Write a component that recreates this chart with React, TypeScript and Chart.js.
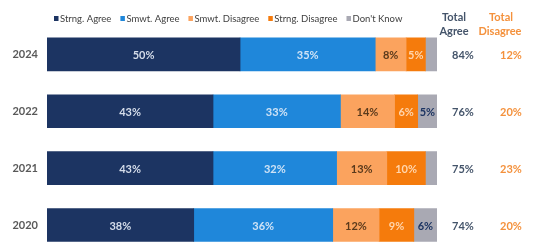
import React, { useEffect, useRef } from "react";
import { Chart, registerables } from "chart.js";

Chart.register(...registerables);

const years = ["2024", "2022", "2021", "2020"];
const strongAgree = [50, 43, 43, 38];
const somewhatAgree = [35, 33, 32, 36];
const somewhatDisagree = [8, 14, 13, 12];
const strongDisagree = [5, 6, 10, 9];
const dontKnow = [3, 5, 3, 6];
const totalAgree = [84, 76, 75, 74];
const totalDisagree = [12, 20, 23, 20];
const seriesNames = ["Strng. Agree", "Smwt. Agree", "Smwt. Disagree", "Strng. Disagree", "Don't Know"];

const colors = ["#1c3462", "#1f87da", "#fba35e", "#f57b0c", "#a9a9b3"];
const labelColors = ["#d5ddea", "#cfe3f6", "#5a3a1c", "#ffd6ae", "#1c3462"];
const FONT = "Lato, 'Open Sans', sans-serif";

const overlay = {
  id: "overlay",
  afterDatasetsDraw(chart: any) {
    const ctx = chart.ctx;
    ctx.save();
    ctx.textAlign = "center";
    ctx.textBaseline = "middle";
    ctx.font = `bold 11px ${FONT}`;
    chart.data.datasets.forEach((ds: any, i: number) => {
      const meta = chart.getDatasetMeta(i);
      meta.data.forEach((el: any, j: number) => {
        const v = ds.data[j];
        if (v < 4) return;
        const p = el.getProps(["x", "base", "y"], true);
        ctx.fillStyle = labelColors[i];
        ctx.fillText(v + "%", (p.x + p.base) / 2, p.y + 1);
      });
    });
    const area = chart.chartArea;
    const yScale = chart.scales.y;
    years.forEach((_, j) => {
      const y = yScale.getPixelForValue(j) + 1;
      ctx.fillStyle = "#44546a";
      ctx.fillText(totalAgree[j] + "%", area.right + 26, y);
      ctx.fillStyle = "#f4913c";
      ctx.fillText(totalDisagree[j] + "%", area.right + 74, y);
    });
    ctx.font = `bold 11px ${FONT}`;
    ctx.fillStyle = "#44546a";
    ctx.fillText("Total", area.right + 17, 17);
    ctx.fillText("Agree", area.right + 17, 31);
    ctx.fillStyle = "#f4913c";
    ctx.fillText("Total", area.right + 64, 17);
    ctx.fillText("Disagree", area.right + 63, 31);

    // legend
    ctx.font = `9.5px ${FONT}`;
    ctx.textAlign = "left";
    let x = area.left + 7;
    chart.data.datasets.forEach((ds: any) => {
      ctx.fillStyle = ds.backgroundColor;
      ctx.fillRect(x, 16, 4.5, 5);
      ctx.fillStyle = "#404040";
      ctx.fillText(ds.label, x + 6, 18.5);
      x += 6 + ctx.measureText(ds.label).width + 9;
    });
    ctx.restore();
  },
};

export default function App() {
  const ref = useRef<HTMLCanvasElement>(null);
  useEffect(() => {
    document.body.style.margin = "0";
    document.body.style.overflow = "hidden";
    const values = [strongAgree, somewhatAgree, somewhatDisagree, strongDisagree, dontKnow];
    const chart = new Chart(ref.current!, {
      type: "bar",
      data: {
        labels: years,
        datasets: values.map((d, i) => ({
          label: seriesNames[i],
          data: d,
          backgroundColor: colors[i],
          borderWidth: 0,
          barThickness: 33,
        })),
      },
      options: {
        indexAxis: "y",
        animation: false,
        responsive: false,
        maintainAspectRatio: false,
        layout: { padding: { left: 0, right: 97, top: 26, bottom: 0 } },
        scales: {
          x: { stacked: true, display: false, min: 0, max: 101 },
          y: {
            stacked: true,
            grid: { display: false, drawTicks: false },
            border: { display: false },
            ticks: { color: "#595959", font: { family: FONT, size: 11, weight: "bold" }, padding: 9 },
            afterFit: (s: any) => { s.width = 47; },
          },
        },
        plugins: {
          legend: { display: false },
          tooltip: { enabled: false },
        },
      },
      plugins: [overlay],
    });
    return () => chart.destroy();
  }, []);
  return (
    <div style={{ width: 534, height: 246, overflow: "hidden" }}>
      <canvas ref={ref} width={534} height={269} style={{ display: "block" }} />
    </div>
  );
}
